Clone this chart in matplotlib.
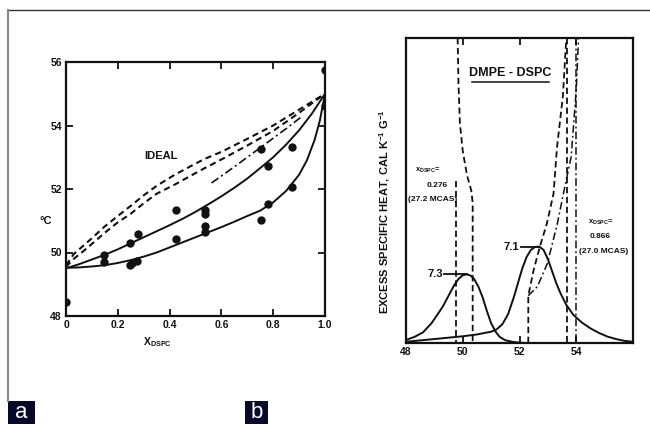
import matplotlib
matplotlib.use("Agg")
import matplotlib.pyplot as plt
from matplotlib.lines import Line2D
from matplotlib.patches import Rectangle

plt.rcParams['font.family'] = ['Liberation Sans', 'DejaVu Sans']
plt.rcParams['font.weight'] = 'bold'
plt.rcParams['mathtext.fontset'] = 'custom'
plt.rcParams['mathtext.rm'] = 'Liberation Sans:bold'
plt.rcParams['mathtext.default'] = 'rm'

# ---------------- panel a: phase diagram ----------------
x_ticks_a = [0, 0.2, 0.4, 0.6, 0.8, 1.0]
x_ticklabels_a = ["0", "0.2", "0.4", "0.6", "0.8", "1.0"]
y_ticks_a = [48, 50, 52, 54, 56]

pts_x = [0.0, 0.148, 0.148, 0.249, 0.249, 0.255, 0.275, 0.278, 0.424, 0.424,
         0.536, 0.536, 0.536, 0.536, 0.752, 0.752, 0.78, 0.78, 0.873, 0.873, 1.0, 1.0]
pts_y = [48.45, 49.93, 49.69, 50.29, 49.6, 49.66, 49.72, 50.57, 51.33, 50.41,
         51.33, 51.2, 50.83, 50.65, 51.02, 53.27, 51.53, 52.72, 52.07, 53.33, 55.75, 54.6]

liq_x = [0, 0.05, 0.1, 0.15, 0.2, 0.25, 0.3, 0.35, 0.4, 0.45, 0.5, 0.55, 0.6,
         0.65, 0.7, 0.75, 0.8, 0.85, 0.9, 0.95, 1.0]
liq_y = [49.5, 49.63, 49.78, 49.93, 50.1, 50.29, 50.48, 50.67, 50.86, 51.06, 51.28,
         51.52, 51.77, 52.04, 52.33, 52.66, 53.0, 53.4, 53.85, 54.38, 55.0]

sol_x = [0, 0.05, 0.1, 0.15, 0.2, 0.25, 0.3, 0.35, 0.4, 0.45, 0.5, 0.55, 0.6,
         0.65, 0.7, 0.75, 0.8, 0.85, 0.9, 0.93, 0.96, 0.98, 1.0]
sol_y = [49.52, 49.53, 49.56, 49.6, 49.67, 49.76, 49.87, 50.0, 50.16, 50.32, 50.48,
         50.64, 50.8, 50.97, 51.15, 51.32, 51.58, 51.94, 52.45, 52.9, 53.55, 54.15, 55.0]

ideal_up_x = [0, 0.03, 0.065, 0.1, 0.148, 0.2, 0.25, 0.3, 0.35, 0.42, 0.5, 0.536,
              0.6, 0.7, 0.8, 0.9, 1.0]
ideal_up_y = [49.6, 49.95, 50.2, 50.45, 50.81, 51.15, 51.47, 51.8, 52.1, 52.45, 52.8,
              52.95, 53.17, 53.58, 54.0, 54.5, 55.0]
ideal_lo_x = [0, 0.03, 0.065, 0.1, 0.148, 0.2, 0.25, 0.3, 0.35, 0.42, 0.5, 0.536,
              0.6, 0.7, 0.8, 0.9, 1.0]
ideal_lo_y = [49.55, 49.8, 50.03, 50.27, 50.61, 50.95, 51.22, 51.55, 51.85, 52.14,
              52.5, 52.66, 52.93, 53.37, 53.83, 54.4, 55.0]

dd_x = [0.562, 0.65, 0.75, 0.85, 0.91]
dd_y = [52.19, 52.7, 53.3, 53.9, 54.28]

# ---------------- panel b: heat capacity curves ----------------
x_ticks_b = [48, 50, 52, 54]

peak1_x = [48.0, 48.3, 48.6, 48.9, 49.1, 49.3, 49.5, 49.7, 49.85, 50.0, 50.14,
           50.28, 50.4, 50.55, 50.7, 50.85, 51.0, 51.15, 51.3, 51.5, 51.8, 52.2, 52.6]
peak1_y = [0.010, 0.020, 0.035, 0.065, 0.092, 0.120, 0.155, 0.190, 0.210, 0.222,
           0.225, 0.221, 0.210, 0.185, 0.150, 0.105, 0.065, 0.038, 0.020, 0.009,
           0.003, 0.0, 0.0]

peak2_x = [48.0, 49.0, 50.0, 50.5, 51.0, 51.2, 51.4, 51.6, 51.8, 51.95, 52.1, 52.25,
           52.4, 52.55, 52.7, 52.85, 53.0, 53.15, 53.3, 53.45, 53.65, 53.9, 54.2,
           54.5, 54.8, 55.1, 55.4, 55.7, 56.0]
peak2_y = [0.004, 0.013, 0.022, 0.028, 0.037, 0.045, 0.062, 0.095, 0.150, 0.198,
           0.245, 0.282, 0.305, 0.315, 0.316, 0.305, 0.275, 0.235, 0.195, 0.162,
           0.125, 0.092, 0.067, 0.048, 0.033, 0.021, 0.013, 0.007, 0.004]

dashA_x = [49.82, 49.85, 49.9, 50.0, 50.15, 50.3, 50.35, 50.35]
dashA_y = [1.0, 0.85, 0.72, 0.63, 0.55, 0.5, 0.46, 0.0]
dashB_x = [49.76, 49.76]
dashB_y = [0.53, 0.0]

dashD_x = [52.31, 52.31, 52.5, 52.73, 52.96, 53.2, 53.32, 53.53, 53.63, 53.66]
dashD_y = [0.0, 0.155, 0.24, 0.32, 0.39, 0.49, 0.64, 0.81, 0.97, 1.0]
dashV_x = [53.66, 53.66]
dashV_y = [1.0, 0.0]
ddE_x = [52.31, 52.63, 52.98, 53.33, 53.57, 53.82, 54.0, 54.08]
ddE_y = [0.155, 0.185, 0.26, 0.39, 0.5, 0.61, 0.83, 1.0]
ddV_x = [54.0, 54.0]
ddV_y = [1.0, 0.0]

W, H = 650, 424
fig = plt.figure(figsize=(W / 100, H / 100), dpi=100)
fig.patch.set_facecolor('white')

def frac(l, t, r, b):
    return [l / W, 1 - b / H, (r - l) / W, (b - t) / H]

# outer frame lines
fig.add_artist(Line2D([8 / W, 1.0], [1 - 10 / H, 1 - 10 / H], color='#333333', lw=1.0))
fig.add_artist(Line2D([8 / W, 8 / W], [1 - 10 / H, 1 - 401 / H], color='#888888', lw=1.5))

# panel tags
for (l, r, lab) in [(8, 35, 'a'), (245, 268, 'b')]:
    fig.add_artist(Rectangle((l / W, 0), (r - l) / W, 23 / H, color='#08082a', lw=0))
    fig.text((l + r) / 2 / W, 11 / H, lab, color='white', fontsize=16,
             fontweight='normal', ha='center', va='center')

ink = '#111111'
# ---- panel a
ax = fig.add_axes(frac(66, 62, 325, 316))
ax.plot(liq_x, liq_y, color=ink, lw=1.4)
ax.plot(sol_x, sol_y, color=ink, lw=1.4)
ax.plot(ideal_up_x, ideal_up_y, color=ink, lw=1.5, dashes=(3, 2))
ax.plot(ideal_lo_x, ideal_lo_y, color=ink, lw=1.5, dashes=(3, 2))
ax.plot(dd_x, dd_y, color=ink, lw=1.2, dashes=(5, 2, 1.2, 2))
ax.plot(pts_x, pts_y, 'o', color=ink, ms=5, clip_on=True)
ax.set_xlim(0, 1.0)
ax.set_ylim(48, 56)
ax.set_xticks(x_ticks_a)
ax.set_xticklabels(x_ticklabels_a)
ax.set_yticks(y_ticks_a)
ax.tick_params(direction='in', top=True, right=True, length=5, width=1.3,
               labelsize=7.5, pad=3, colors=ink)
for s in ax.spines.values():
    s.set_linewidth(1.6)
    s.set_color(ink)
ax.text(0.365, 53.03, 'IDEAL', fontsize=8, ha='center', va='center', color=ink)
fig.text(46 / W, 1 - 221 / H, '°C', fontsize=8, ha='center', va='center', color=ink)
fig.text(157 / W, 1 - 342 / H, r'X$_{\mathregular{DSPC}}$', fontsize=7.5,
         ha='center', va='center', color=ink)

# ---- panel b
bx = fig.add_axes(frac(406, 38, 633, 343))
bx.plot(peak1_x, peak1_y, color=ink, lw=1.4)
bx.plot(peak2_x, peak2_y, color=ink, lw=1.4)
for xs, ys in [(dashA_x, dashA_y), (dashB_x, dashB_y), (dashD_x, dashD_y), (dashV_x, dashV_y)]:
    bx.plot(xs, ys, color=ink, lw=1.3, dashes=(3.5, 2))
for xs, ys in [(ddE_x, ddE_y), (ddV_x, ddV_y)]:
    bx.plot(xs, ys, color=ink, lw=1.1, dashes=(5, 2, 1.2, 2))
bx.set_xlim(48, 56)
bx.set_ylim(0, 1.0)
bx.set_xticks(x_ticks_b)
bx.set_yticks([])
bx.tick_params(direction='in', top=True, length=5, width=1.3, labelsize=7.5,
               pad=3, colors=ink)
for s in bx.spines.values():
    s.set_linewidth(1.6)
    s.set_color(ink)

# peak labels
p1 = max(peak1_y)
p1x = peak1_x[peak1_y.index(p1)]
p2 = max(peak2_y)
p2x = peak2_x[peak2_y.index(p2)]
bx.plot([p1x - 0.8, p1x], [p1, p1], color=ink, lw=1.3)
bx.text(p1x - 0.85, p1, '7.3', fontsize=8, ha='right', va='center', color=ink)
bx.plot([p2x - 0.65, p2x], [p2, p2], color=ink, lw=1.3)
bx.text(p2x - 0.7, p2, '7.1', fontsize=8, ha='right', va='center', color=ink)

bx.text(48.77, 0.567, r'x$_{\mathregular{DSPC}}$=', fontsize=5.5, ha='center', va='center', color=ink)
bx.text(49.09, 0.518, '0.276', fontsize=6, ha='center', va='center', color=ink)
bx.text(48.95, 0.469, '(27.2 MCAS)', fontsize=6, ha='center', va='center', color=ink)
bx.text(54.86, 0.394, r'x$_{\mathregular{DSPC}}$=', fontsize=5.5, ha='center', va='center', color=ink)
bx.text(54.83, 0.349, '0.866', fontsize=6, ha='center', va='center', color=ink)
bx.text(54.95, 0.30, '(27.0 MCAS)', fontsize=6, ha='center', va='center', color=ink)

t = bx.text(0.46, 0.885, 'DMPE - DSPC', transform=bx.transAxes, fontsize=9,
            ha='center', va='center', color=ink)
bx.plot([0.29, 0.63], [0.855, 0.855], transform=bx.transAxes, color=ink, lw=1.1)

fig.text(385 / W, 1 - 212 / H, r'EXCESS SPECIFIC HEAT, CAL K$^{-1}$ G$^{-1}$',
         fontsize=8, rotation=90, ha='center', va='center', color=ink)

fig.savefig('out.png', dpi=100, facecolor='white')
